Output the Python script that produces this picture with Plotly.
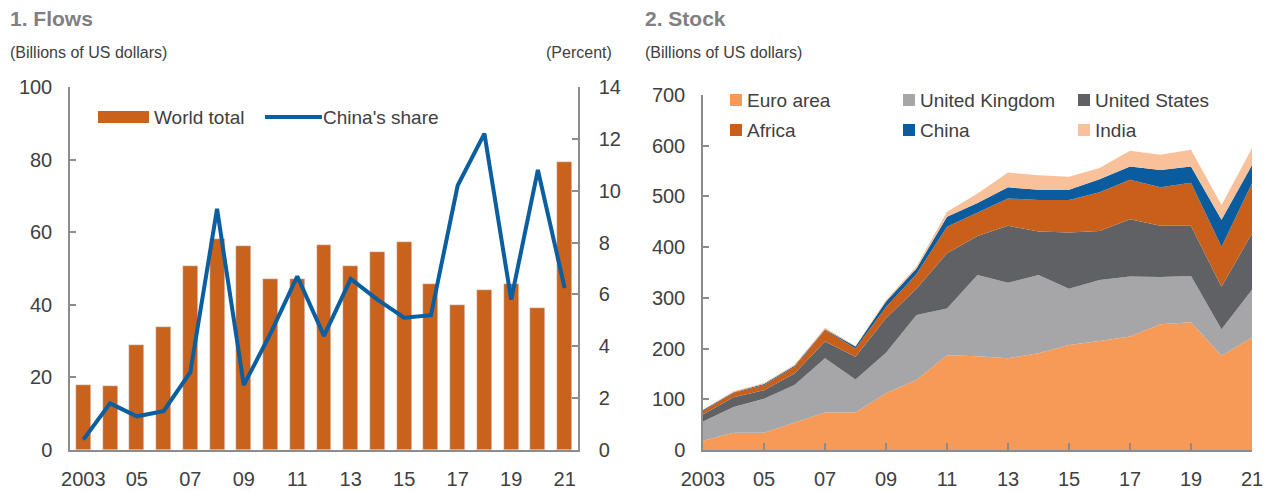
import plotly.graph_objects as go

# ---------------- data ----------------
years = list(range(2003, 2022))
tick_years = list(range(2003, 2022, 2))
tick_labels = ["2003", "05", "07", "09", "11", "13", "15", "17", "19", "21"]

# Panel 1: flows
world_total = [18, 17.5, 29, 34, 50.6, 58, 56.3, 47, 47, 56.6, 50.6, 54.5, 57.3, 45.7, 40, 44, 45.7, 39, 79.4]
china_share = [0.4, 1.8, 1.3, 1.5, 3.0, 9.3, 2.5, 4.5, 6.7, 4.4, 6.6, 5.8, 5.1, 5.2, 10.2, 12.2, 5.8, 10.8, 6.25]

# Panel 2: stock (individual layers, stacked)
stock_euro = [18, 34, 34, 54, 74, 74, 112, 138, 187, 185, 181, 191, 207, 215, 224, 248, 252, 186, 222]
stock_uk = [38, 51, 67, 74, 107, 65, 80, 128, 92, 160, 149, 154, 111, 120, 118, 93, 91, 52, 94]
stock_us = [14, 19, 17, 23, 33, 45, 68, 52, 109, 77, 112, 86, 111, 97, 113, 101, 99, 84, 111]
stock_africa = [7, 9, 10, 13, 23, 16, 22, 29, 52, 46, 54, 62, 64, 76, 78, 76, 85, 79, 99]
stock_china = [2, 1, 2, 2, 1, 4, 11, 11, 20, 19, 22, 20, 20, 26, 26, 34, 32, 53, 36]
stock_india = [1, 2, 2, 2, 3, 1, 3, 4, 10, 19, 29, 29, 26, 22, 31, 30, 33, 29, 33]

stock_names = ["Euro area", "United Kingdom", "United States", "Africa", "China", "India"]
stock_series = [stock_euro, stock_uk, stock_us, stock_africa, stock_china, stock_india]

# ---------------- styles ----------------
W, H = 1265, 491
FONT = "Liberation Sans, Arial, sans-serif"
AXIS = "#8c8c8c"
TXT = "#404040"
BAR_C = "#C8621C"
LINE_C = "#0B5EA0"
stock_colors = ["#F79A57", "#A6A6A9", "#606164", "#C8601C", "#0A5C9E", "#F9C19A"]


def fx(p):
    return p / W


def fy(p):
    return 1 - p / H


fig = go.Figure()

fig.add_trace(go.Bar(x=years, y=world_total, name="World total", marker_color=BAR_C,
                     width=0.56, xaxis="x", yaxis="y", showlegend=False))
fig.add_trace(go.Scatter(x=years, y=china_share, name="China's share", mode="lines",
                         line=dict(color=LINE_C, width=4), xaxis="x", yaxis="y2", showlegend=False))

for name, vals, col in zip(stock_names, stock_series, stock_colors):
    fig.add_trace(go.Scatter(x=years, y=vals, name=name, mode="lines", stackgroup="stock",
                             line=dict(width=0, color=col), fillcolor=col,
                             xaxis="x2", yaxis="y3", showlegend=False))

tickfont = dict(family=FONT, size=20, color=TXT)
common_y = dict(showline=True, linecolor=AXIS, linewidth=1.5, ticks="inside", ticklen=6,
                tickcolor=AXIS, tickwidth=1.5, showgrid=False, zeroline=False, tickfont=tickfont,
                fixedrange=True, automargin=False)

fig.update_layout(
    width=W, height=H, margin=dict(l=0, r=0, t=0, b=0, pad=0, autoexpand=False),
    paper_bgcolor="white", plot_bgcolor="white", showlegend=False, bargap=0,
    xaxis=dict(domain=[fx(70), fx(578)], range=[2002.5, 2021.5], tickvals=tick_years,
               ticktext=tick_labels, showline=True, linecolor=AXIS, linewidth=1.5, ticks="",
               showgrid=False, zeroline=False, tickfont=tickfont, anchor="y", ticklabelstandoff=10,
               automargin=False, fixedrange=True),
    yaxis=dict(domain=[fy(450), fy(87)], range=[0, 100], tickvals=list(range(0, 101, 20)),
               anchor="x", ticklabelstandoff=12, **common_y),
    yaxis2=dict(overlaying="y", side="right", range=[0, 14], tickvals=list(range(0, 15, 2)),
                anchor="x", ticklabelstandoff=15, **common_y),
    xaxis2=dict(domain=[fx(703), fx(1252)], range=[2003, 2021], tickvals=tick_years,
                ticktext=tick_labels, showline=True, linecolor=AXIS, linewidth=1.5, ticks="inside",
                ticklen=7, tickcolor=AXIS, tickwidth=1.5, showgrid=False, zeroline=False,
                tickfont=tickfont, anchor="y3", ticklabelstandoff=10, automargin=False,
                fixedrange=True),
    yaxis3=dict(domain=[fy(450), fy(95)], range=[0, 700], tickvals=list(range(0, 701, 100)),
                anchor="x2", ticklabelstandoff=12, **common_y),
)

ann = []


def text(x, y, s, size, color=TXT, anchor="left", bold=False):
    ann.append(dict(x=fx(x), y=fy(y), xref="paper", yref="paper", text=f"<b>{s}</b>" if bold else s,
                    showarrow=False, xanchor=anchor, yanchor="middle", xshift=0,
                    font=dict(family=FONT, size=size, color=color)))


text(8, 19, "1. Flows", 21, color="#808080", bold=True)
text(8, 52, "(Billions of US dollars)", 16)
text(614, 52, "(Percent)", 16, anchor="right")
text(643, 19, "2. Stock", 21, color="#808080", bold=True)
text(643, 52, "(Billions of US dollars)", 16)

# legend panel 1
shapes = [
    dict(type="rect", xref="paper", yref="paper", x0=fx(98), x1=fx(149), y0=fy(123), y1=fy(111),
         fillcolor=BAR_C, line=dict(width=0)),
    dict(type="line", xref="paper", yref="paper", x0=fx(265), x1=fx(322), y0=fy(117), y1=fy(117),
         line=dict(color=LINE_C, width=4)),
]
text(152, 117, "World total", 19)
text(321, 117, "China's share", 19)

# legend panel 2
cols_x = [730, 903, 1078]
rows_y = [100, 130]
for i, (name, col) in enumerate(zip(stock_names, stock_colors)):
    cx = cols_x[i % 3]
    cy = rows_y[i // 3]
    shapes.append(dict(type="rect", xref="paper", yref="paper", x0=fx(cx), x1=fx(cx + 12),
                       y0=fy(cy + 6), y1=fy(cy - 6), fillcolor=col, line=dict(width=0)))
    text(cx + 15, cy, name, 19)

fig.update_layout(annotations=ann, shapes=shapes)

fig.write_html("out.html", config={"displayModeBar": False},
               post_script="document.body.style.margin='0px';document.body.style.overflow='hidden';")
